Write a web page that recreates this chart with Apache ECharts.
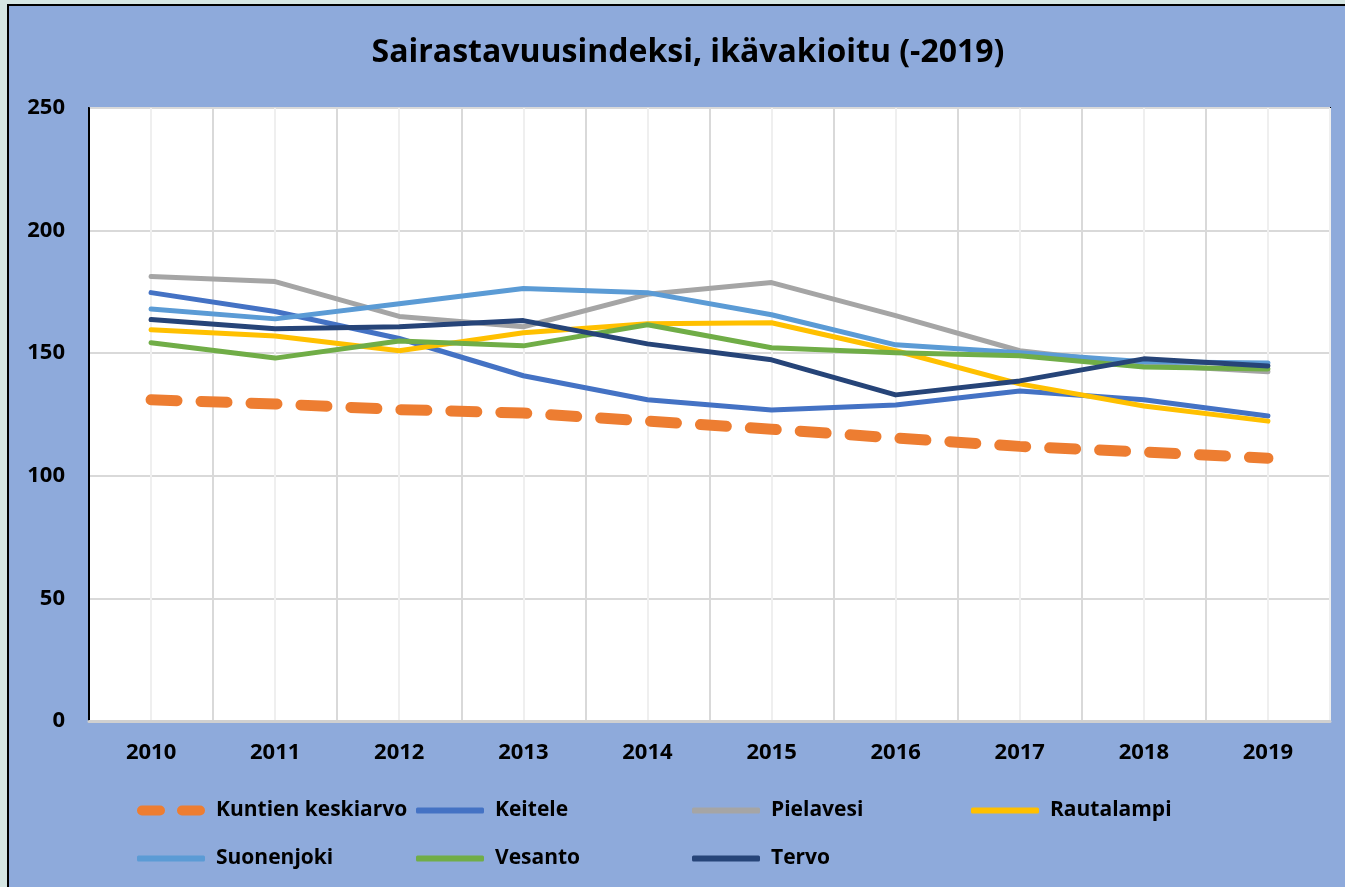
<!DOCTYPE html>
<html>
<head>
<meta charset="utf-8">
<script src="https://cdn.jsdelivr.net/npm/echarts@6/dist/echarts.min.js"></script>
<style>
  html, body { margin: 0; padding: 0; background: #d5e6e3; width: 1345px; height: 887px; overflow: hidden; }
  #frame { position: absolute; left: 7px; top: 4px; width: 1338px; height: 883px; border-left: 2px solid #000; border-top: 2px solid #000; background: #8eaadb; }
  #chart { width: 1338px; height: 883px; }
</style>
</head>
<body>
<div id="frame"><div id="chart"></div></div>
<script>
const years = ["2010", "2011", "2012", "2013", "2014", "2015", "2016", "2017", "2018", "2019"];
const yTicks = [0, 50, 100, 150, 200, 250];

const kuntienKeskiarvo = [131, 129.3, 127, 125.6, 122.3, 119, 115.4, 112, 109.7, 107.2];
const keitele = [174.7, 167, 156, 140.8, 131, 126.8, 128.9, 134.6, 131, 124.4];
const pielavesi = [181.3, 179.2, 165, 160.8, 174, 178.8, 165.3, 151, 145.3, 142.4];
const rautalampi = [159.6, 157, 151, 158.3, 162, 162.4, 151, 137.5, 128.5, 122.3];
const suonenjoki = [168, 164, 170.2, 176.4, 174.7, 165.7, 153.4, 150.2, 146.5, 146];
const vesanto = [154.3, 148, 155, 153, 161.6, 152.2, 150.2, 149, 144.4, 143.6];
const tervo = [163.7, 160, 160.8, 163.3, 153.8, 147.3, 133, 138.7, 147.7, 144.8];

const font = "'Open Sans', sans-serif";

const chart = echarts.init(document.getElementById("chart"));

function line(name, data, color, extra) {
  return Object.assign({
    name: name,
    type: "line",
    data: data,
    symbol: "none",
    xAxisIndex: 0,
    lineStyle: { color: color, width: 5, cap: "round", join: "round" },
    itemStyle: { color: color },
  }, extra || {});
}

// two rounded dashes for the average's legend icon
const dashIcon = "path://M5,0H23A5,5 0 0 1 23,10H5A5,5 0 0 1 5,0Z M45,0H63A5,5 0 0 1 63,10H45A5,5 0 0 1 45,0Z";

// legend entries laid out as a 4-column table
const legendPos = [
  ["Kuntien keskiarvo", 128, 794],
  ["Keitele", 407, 794],
  ["Pielavesi", 683, 794],
  ["Rautalampi", 962, 794],
  ["Suonenjoki", 128, 842],
  ["Vesanto", 407, 842],
  ["Tervo", 683, 842],
];

chart.setOption({
  animation: false,
  textStyle: { fontFamily: font },
  title: {
    text: "Sairastavuusindeksi, ikävakioitu (-2019)",
    left: 674,
    textAlign: "center",
    top: 26,
    textStyle: { fontFamily: font, fontWeight: "bold", fontSize: 32, color: "#000" },
  },
  legend: legendPos.map(([name, x, y], i) => ({
    data: [{ name: name, icon: i === 0 ? dashIcon : "roundRect" }],
    left: x,
    top: y,
    padding: 0,
    itemWidth: 68,
    itemHeight: i === 0 ? 10 : 6,
    itemGap: 0,
    textStyle: { fontFamily: font, fontWeight: "bold", fontSize: 21, color: "#000", padding: [0, 0, 0, 6] },
  })),
  grid: {
    left: 80,
    right: 17,
    top: 102,
    bottom: 168,
    show: true,
    backgroundColor: "#fff",
    borderColor: "#000",
    borderWidth: 2,
  },
  xAxis: [
    {
      type: "category",
      data: years,
      boundaryGap: true,
      axisLine: { lineStyle: { color: "#d0d0d0", width: 3 } },
      axisTick: { show: false },
      axisLabel: { color: "#000", fontFamily: font, fontWeight: "bold", fontSize: 22, margin: 21 },
      splitLine: { show: true, lineStyle: { color: "#d9d9d9", width: 2 } },
    },
    {
      type: "category",
      data: years.concat(years),
      boundaryGap: true,
      position: "bottom",
      axisLine: { show: false },
      axisTick: { show: false },
      axisLabel: { show: false },
      splitLine: { show: true, interval: (i) => i % 2 === 1, lineStyle: { color: "#efefef", width: 2 } },
    },
  ],
  yAxis: {
    type: "value",
    min: yTicks[0],
    max: yTicks[yTicks.length - 1],
    interval: 50,
    axisLine: { show: true, lineStyle: { color: "#000", width: 2 } },
    axisTick: { show: false },
    axisLabel: { color: "#000", fontFamily: font, fontWeight: "bold", fontSize: 22, margin: 24 },
    splitLine: { show: true, lineStyle: { color: "#d9d9d9", width: 2 } },
  },
  series: [
    line("Kuntien keskiarvo", kuntienKeskiarvo, "#ed7d31", {
      lineStyle: { color: "#ed7d31", width: 11, type: [26, 24], cap: "round" },
      z: 1,
    }),
    line("Keitele", keitele, "#4472c4"),
    line("Pielavesi", pielavesi, "#a5a5a5"),
    line("Rautalampi", rautalampi, "#ffc000"),
    line("Suonenjoki", suonenjoki, "#5b9bd5"),
    line("Vesanto", vesanto, "#70ad47"),
    line("Tervo", tervo, "#264478"),
  ],
});
</script>
</body>
</html>
